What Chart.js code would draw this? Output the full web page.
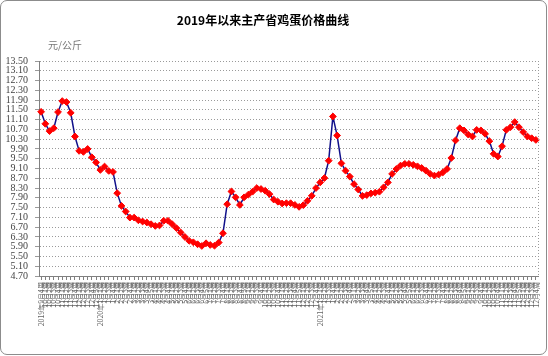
<!DOCTYPE html>
<html><head><meta charset="utf-8">
<script src="https://cdn.jsdelivr.net/npm/chart.js@4/dist/chart.umd.min.js"></script>
<style>
html,body{margin:0;padding:0;background:#fff;}
#wrap{position:relative;width:548px;height:356px;overflow:hidden;}
#frame{position:absolute;left:0;top:0;width:545px;height:353px;border:1px solid #8c8c8c;border-radius:7px;}
#title{position:absolute;left:0;width:526px;top:11px;text-align:center;font:bold 12px "Noto Sans CJK SC";color:#000;}
#unit{position:absolute;left:48px;top:37px;font:10px "Noto Sans CJK SC";color:#777;}
canvas{position:absolute;left:0;top:0;}
</style></head>
<body><div id="wrap"><div id="frame"></div><canvas id="c" width="548" height="356"></canvas><div id="title">2019年以来主产省鸡蛋价格曲线</div><div id="unit">元/公斤</div></div>
<script>
const weekLabels = [
"2019年9月4周",
"10月1周","10月2周","10月3周","10月4周",
"11月1周","11月2周","11月3周","11月4周",
"12月1周","12月2周","12月3周","12月4周","12月5周",
"2020年1月1周","1月2周","1月3周","1月4周",
"2月1周","2月2周","2月3周","2月4周",
"3月1周","3月2周","3月3周","3月4周","3月5周",
"4月1周","4月2周","4月3周","4月4周",
"5月1周","5月2周","5月3周","5月4周",
"6月1周","6月2周","6月3周","6月4周","6月5周",
"7月1周","7月2周","7月3周","7月4周",
"8月1周","8月2周","8月3周","8月4周","8月5周",
"9月1周","9月2周","9月3周","9月4周",
"10月1周","10月2周","10月3周","10月4周",
"11月1周","11月2周","11月3周","11月4周","11月5周",
"12月1周","12月2周","12月3周","12月4周",
"2021年1月1周","1月2周","1月3周","1月4周",
"2月1周","2月2周","2月3周","2月4周",
"3月1周","3月2周","3月3周","3月4周","3月5周",
"4月1周","4月2周","4月3周","4月4周",
"5月1周","5月2周","5月3周","5月4周","5月5周",
"6月1周","6月2周","6月3周","6月4周",
"7月1周","7月2周","7月3周","7月4周",
"8月1周","8月2周","8月3周","8月4周","8月5周",
"9月1周","9月2周","9月3周","9月4周",
"10月1周","10月2周","10月3周","10月4周",
"11月1周","11月2周","11月3周","11月4周","11月5周",
"12月1周","12月2周","12月3周","12月4周"
];
const eggPrice = [
11.42,10.93,10.63,10.75,11.41,11.86,11.82,11.38,10.41,9.82,
9.78,9.90,9.56,9.35,9.04,9.18,9.00,8.96,8.09,7.57,
7.34,7.09,7.09,6.98,6.93,6.89,6.82,6.75,6.77,6.96,
6.96,6.82,6.66,6.48,6.30,6.14,6.08,6.00,5.93,6.04,
5.97,5.94,6.07,6.45,7.64,8.16,7.92,7.61,7.92,8.03,
8.15,8.30,8.26,8.19,8.05,7.83,7.74,7.67,7.68,7.68,
7.61,7.53,7.60,7.78,7.98,8.30,8.53,8.71,9.42,11.23,
10.45,9.31,9.01,8.77,8.46,8.24,7.98,8.01,8.08,8.11,
8.15,8.33,8.53,8.88,9.08,9.22,9.29,9.29,9.25,9.19,
9.12,9.01,8.88,8.81,8.85,8.94,9.08,9.53,10.25,10.75,
10.66,10.49,10.41,10.68,10.66,10.52,10.22,9.70,9.59,10.01,
10.68,10.79,11.00,10.79,10.59,10.41,10.34,10.27
];
const yMin = 4.7, yMax = 13.5, yStep = 0.4;

const frameBorder = {
  id: 'frameBorder',
  afterDraw(chart) {
    const {ctx, chartArea: a} = chart;
    ctx.save();
    ctx.strokeStyle = '#9a9a9a';
    ctx.lineWidth = 1;
    ctx.setLineDash([1, 2]);
    ctx.beginPath();
    ctx.moveTo(Math.round(a.right) + 0.5, a.top);
    ctx.lineTo(Math.round(a.right) + 0.5, a.bottom);
    ctx.stroke();
    ctx.restore();
  }
};

new Chart(document.getElementById('c'), {
  type: 'line',
  data: {
    labels: weekLabels,
    datasets: [{
      data: eggPrice,
      borderColor: '#10108a',
      borderWidth: 1.5,
      tension: 0,
      pointStyle: 'rectRot',
      pointRadius: 3.4,
      pointBackgroundColor: '#ff0000',
      pointBorderColor: '#ff0000',
      pointBorderWidth: 1
    }]
  },
  options: {
    responsive: false,
    animation: false,
    devicePixelRatio: 1,
    layout: { padding: { top: 61, right: 10, left: 0, bottom: 0 } },
    plugins: { legend: { display: false }, tooltip: { enabled: false }, title: { display: false } },
    scales: {
      x: {
        type: 'category',
        offset: true,
        grid: { display: true, drawOnChartArea: false, drawTicks: true, tickLength: 4, color: '#808080' },
        border: { display: true, color: '#808080' },
        ticks: {
          autoSkip: false, maxRotation: 90, minRotation: 90,
          font: { size: 7, family: 'Noto Sans CJK SC' }, color: '#666', padding: 2
        },
        afterFit(s) { s.height = 80; }
      },
      y: {
        min: yMin, max: yMax,
        ticks: {
          autoSkip: false,
          stepSize: yStep,
          callback: v => Number(v).toFixed(2),
          font: { size: 10, family: 'Liberation Serif' }, color: '#444', padding: 7
        },
        grid: { color: '#9a9a9a', tickLength: 4 },
        border: { display: true, color: '#808080', dash: [1, 2] },
        afterFit(s) { s.width = 39; }
      }
    }
  },
  plugins: [frameBorder]
});
</script>
</body></html>
